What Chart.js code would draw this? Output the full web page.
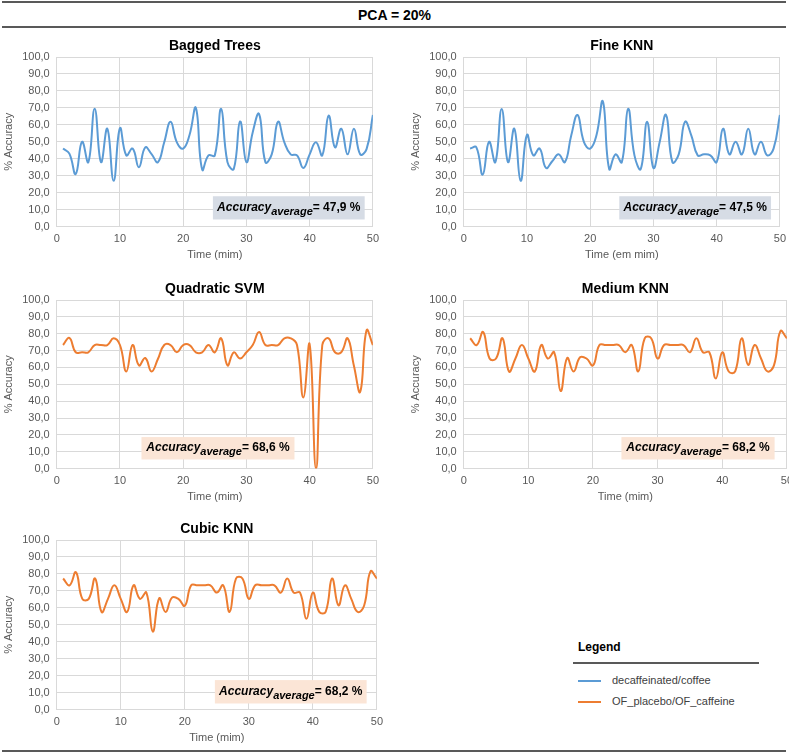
<!DOCTYPE html>
<html lang="en">
<head>
<meta charset="utf-8">
<title>PCA = 20%</title>
<script src="https://cdn.jsdelivr.net/npm/chart.js@4.4.1/dist/chart.umd.min.js"></script>
<style>
  body { margin: 0; background: #fff; font-family: "Liberation Sans", Arial, sans-serif; }
  #pagina { position: relative; width: 789px; height: 754px; overflow: hidden; }
  .regua { position: absolute; left: 2px; width: 784px; height: 2px; background: #595959; }
  #tituloGeral { position: absolute; left: 0; width: 789px; top: 7px; text-align: center; font-weight: bold; font-size: 14px; color: #000; }
  .painel { position: absolute; }
  #legenda { position: absolute; left: 573px; top: 640px; width: 186px; color: #404040; font-size: 11px; }
  #legenda .cab { font-weight: bold; font-size: 12px; color: #000; padding-left: 5px; height: 22px; border-bottom: 2px solid #595959; }
  #legenda .item { position: relative; height: 21px; line-height: 21px; padding-left: 39px; }
  #legenda .item i { position: absolute; left: 5px; top: 10px; width: 23px; height: 2px; }
</style>
</head>
<body>
<div id="pagina">
  <div class="regua" style="top:1px"></div>
  <div id="tituloGeral">PCA = 20%</div>
  <div class="regua" style="top:26px"></div>

  <div class="painel" style="left:0;top:37px;width:385px;height:227px"><canvas id="g1"></canvas></div>
  <div class="painel" style="left:395px;top:37px;width:397px;height:227px"><canvas id="g2"></canvas></div>
  <div class="painel" style="left:0;top:280px;width:385px;height:226px"><canvas id="g3"></canvas></div>
  <div class="painel" style="left:395px;top:280px;width:404px;height:226px"><canvas id="g4"></canvas></div>
  <div class="painel" style="left:0;top:520px;width:389px;height:227px"><canvas id="g5"></canvas></div>

  <div id="legenda">
    <div class="cab">Legend</div>
    <div style="height:6px"></div>
    <div class="item"><i style="background:#5b9bd5"></i><span id="leg1"></span></div>
    <div class="item"><i style="background:#ed7d31"></i><span id="leg2"></span></div>
  </div>

  <div class="regua" style="top:750px"></div>
</div>

<script>
// ---------------------------------------------------------------
// Dados (acurácia por minuto, 50 minutos)
// ---------------------------------------------------------------
const tempo = [1, 2, 3, 4, 5, 6, 7, 8, 9, 10, 11, 12, 13, 14, 15, 16, 17, 18, 19, 20,
  21, 22, 23, 24, 25, 26, 27, 28, 29, 30, 31, 32, 33, 34, 35, 36, 37, 38, 39, 40,
  41, 42, 43, 44, 45, 46, 47, 48, 49, 50];

const baggedTrees = [46, 43, 31, 50, 38, 69.5, 38, 57.7, 27, 58, 42, 46, 35, 46.7, 42.7, 38, 49.7, 61.8, 49.7, 46,
  54, 70, 33.6, 42, 42, 69.4, 38, 34, 62, 38, 55.7, 66.4, 38, 42.6, 61.8, 49.7, 42.6, 42, 34.6, 42.6,
  49.7, 42, 65.4, 46.7, 57.7, 42.6, 57.7, 42.6, 45.7, 65.8];

const fineKnn = [46, 46.7, 30.6, 50, 38, 69.4, 38, 57.7, 27, 54, 42, 46, 34.6, 38.5, 42.6, 38, 53.7, 65.8, 50, 46,
  54, 73.8, 34, 42.6, 38, 69.4, 42, 34, 61.8, 34.6, 50, 65.8, 38, 42.6, 61.8, 53.7, 42, 42.6, 42, 38,
  57.7, 42.6, 50, 42.6, 57.7, 42.6, 50, 42, 46, 65.8];

const quadraticSvm = [73.3, 77.5, 69, 69, 69, 73.3, 73.3, 73.3, 77.3, 73.3, 57.6, 73.3, 61.2, 65.6, 57.6, 65, 73.3, 73.3, 69, 73.3,
  73.3, 69, 69, 73.3, 69, 77.3, 61.2, 69, 65.3, 69, 73.3, 81, 73.3, 73.3, 73.3, 77.3, 77.3, 73.3, 42.2, 73.7,
  0, 73.3, 77.3, 69, 69, 77.3, 61, 45.6, 82, 73.3];

const mediumKnn = [77.3, 73.3, 81, 65.3, 65.3, 77.3, 57.6, 65.3, 73.3, 65.3, 57.6, 73.3, 65.3, 69, 46, 65.6, 57.6, 66, 65.3, 61.2,
  73.3, 73.3, 73.3, 73.3, 69, 73.3, 57.6, 77.3, 77.3, 65.3, 73.3, 73.3, 73.3, 73.3, 69, 77.3, 69, 69, 53.5, 69,
  57.6, 57.6, 77.3, 61.5, 73.3, 65.3, 57.6, 61.2, 81.5, 77.3];

const cubicKnn = [77.3, 73.3, 81, 65.3, 65.3, 77.3, 57.6, 65.3, 73.3, 65.3, 57.6, 73.3, 65.3, 69, 46, 65.6, 57.6, 66, 65.3, 61.2,
  73.3, 73.3, 73.3, 73.3, 69, 73.3, 57.6, 77.3, 77.3, 65.3, 73.3, 73.3, 73.3, 73.3, 69, 77.3, 69, 69, 53.5, 69,
  57.6, 57.6, 77.3, 61.5, 73.3, 65.3, 57.6, 61.2, 81.5, 77.3];

const titulos = ['Bagged Trees', 'Fine KNN', 'Quadratic SVM', 'Medium KNN', 'Cubic KNN'];
const medias = ['47,9', '47,5', '68,6', '68,2', '68,2'];
const rotulosX = ['Time (mim)', 'Time (em mim)', 'Time (mim)', 'Time (mim)', 'Time (mim)'];
const legendas = ['decaffeinated/coffee', 'OF_placebo/OF_caffeine'];
const ticksX = [0, 10, 20, 30, 40, 50];
const ticksY = [0, 10, 20, 30, 40, 50, 60, 70, 80, 90, 100];

const AZUL = '#5b9bd5';
const LARANJA = '#ed7d31';
const FONTE = '"Liberation Sans", Arial, sans-serif';

document.getElementById('leg1').textContent = legendas[0];
document.getElementById('leg2').textContent = legendas[1];

// Título do painel e caixa "Accuracy average", desenhados sobre a área do gráfico
const pluginPainel = {
  id: 'painel',
  afterDraw(chart, args, opts) {
    const { ctx, chartArea, scales } = chart;
    ctx.save();
    ctx.fillStyle = '#000';
    ctx.font = `bold 14px ${FONTE}`;
    ctx.textAlign = 'center';
    ctx.textBaseline = 'middle';
    ctx.fillText(opts.titulo, (chartArea.left + chartArea.right) / 2, chartArea.top - 11);

    const x1 = scales.x.getPixelForValue(opts.caixa[0]);
    const x2 = scales.x.getPixelForValue(opts.caixa[1]);
    const y1 = scales.y.getPixelForValue(opts.caixa[3]);
    const y2 = scales.y.getPixelForValue(opts.caixa[2]);
    ctx.fillStyle = opts.fundo;
    ctx.fillRect(x1, y1, x2 - x1, y2 - y1);

    const partes = [
      { t: 'Accuracy', f: `italic bold 12px ${FONTE}`, dy: 0 },
      { t: 'average', f: `italic bold 11px ${FONTE}`, dy: 4 },
      { t: `= ${opts.media} %`, f: `bold 12px ${FONTE}`, dy: 0 }
    ];
    let larg = 0;
    partes.forEach((p) => { ctx.font = p.f; p.w = ctx.measureText(p.t).width; larg += p.w; });
    let x = (x1 + x2) / 2 - larg / 2;
    const yb = (y1 + y2) / 2 + 3;
    ctx.textAlign = 'left';
    ctx.textBaseline = 'alphabetic';
    ctx.fillStyle = '#000';
    partes.forEach((p) => { ctx.font = p.f; ctx.fillText(p.t, x, yb + p.dy); x += p.w; });
    ctx.restore();
  }
};

function criarPainel(id, indice, serie, cor, fundo, caixa, padding) {
  new Chart(document.getElementById(id), {
    type: 'line',
    data: {
      labels: tempo,
      datasets: [{
        data: serie.map((v, i) => ({ x: tempo[i], y: v })),
        borderColor: cor,
        borderWidth: 2,
        pointRadius: 0,
        tension: 0.45,
        fill: false
      }]
    },
    options: {
      responsive: true,
      maintainAspectRatio: false,
      animation: false,
      layout: { padding: padding },
      plugins: {
        legend: { display: false },
        tooltip: { enabled: false },
        painel: { titulo: titulos[indice], media: medias[indice], fundo: fundo, caixa: caixa }
      },
      scales: {
        x: {
          type: 'linear',
          min: ticksX[0],
          max: ticksX[ticksX.length - 1],
          afterBuildTicks: (ax) => { ax.ticks = ticksX.map((v) => ({ value: v })); },
          grid: { color: '#d9d9d9', drawTicks: false },
          border: { color: '#d9d9d9' },
          ticks: { color: '#595959', font: { size: 11, family: FONTE }, padding: 6, maxRotation: 0 },
          title: { display: true, text: rotulosX[indice], color: '#595959', font: { size: 11, family: FONTE }, padding: { top: -3, bottom: 0 } }
        },
        y: {
          min: ticksY[0],
          max: ticksY[ticksY.length - 1],
          afterBuildTicks: (ax) => { ax.ticks = ticksY.map((v) => ({ value: v })); },
          grid: { color: '#d9d9d9', drawTicks: false },
          border: { color: '#d9d9d9' },
          ticks: { color: '#595959', font: { size: 11, family: FONTE }, padding: 7, callback: (v) => v.toFixed(1).replace('.', ',') },
          title: { display: true, text: '% Accuracy', color: '#595959', font: { size: 11, family: FONTE }, padding: { top: 0, bottom: 0 } }
        }
      }
    },
    plugins: [pluginPainel]
  });
}

criarPainel('g1', 0, baggedTrees, AZUL, '#d6dce5', [24.7, 48.7, 4.2, 17.9], { top: 20, left: 2, right: 3, bottom: 2 });
criarPainel('g2', 1, fineKnn, AZUL, '#d6dce5', [24.6, 48.6, 4.2, 17.9], { top: 20, left: 14, right: 3, bottom: 2 });
criarPainel('g3', 2, quadraticSvm, LARANJA, '#fbe5d6', [13.4, 37.6, 5.4, 18.7], { top: 20, left: 2, right: 3, bottom: 2 });
criarPainel('g4', 3, mediumKnn, LARANJA, '#fbe5d6', [24.4, 48.1, 5.4, 18.7], { top: 20, left: 14, right: 3, bottom: 2 });
criarPainel('g5', 4, cubicKnn, LARANJA, '#fbe5d6', [24.7, 48.4, 3.6, 17.4], { top: 20, left: 2, right: 3, bottom: 2 });
</script>
</body>
</html>
